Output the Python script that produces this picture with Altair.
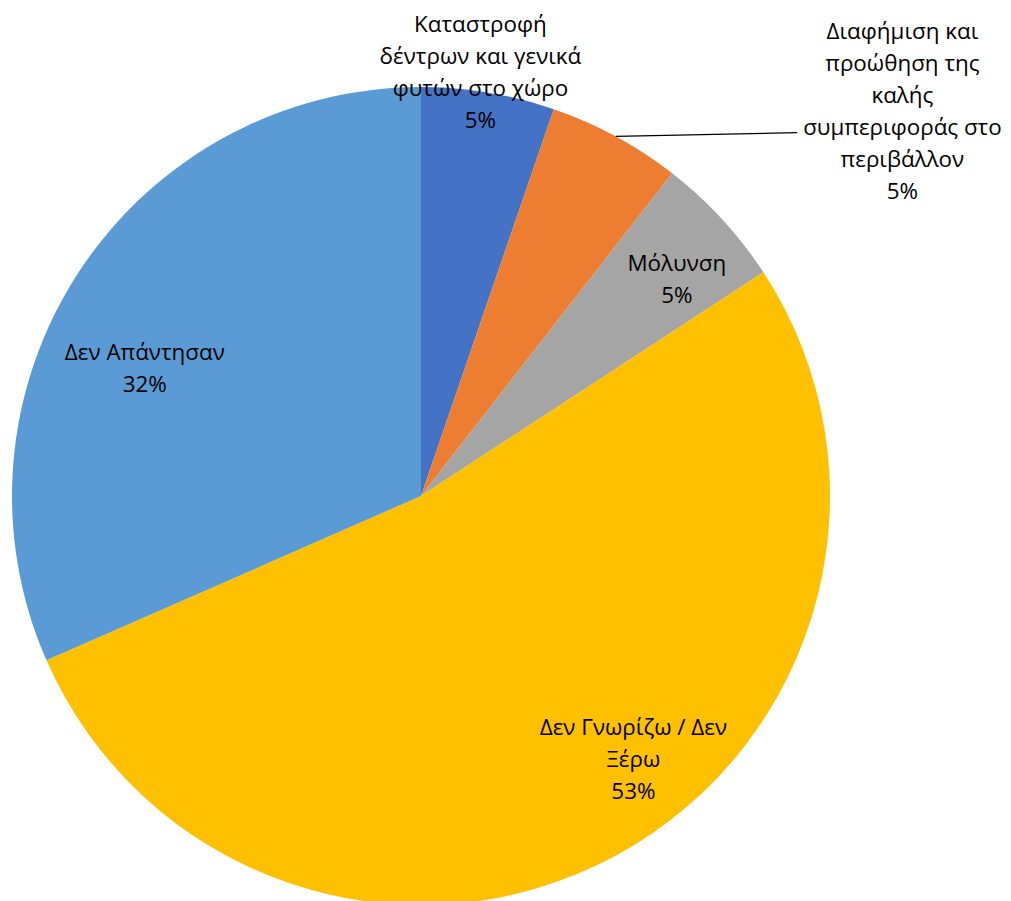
import altair as alt
import pandas as pd
import numpy as np

categories = [
    "Καταστροφή δέντρων και γενικά φυτών στο χώρο",
    "Διαφήμιση και προώθηση της καλής συμπεριφοράς στο περιβάλλον",
    "Μόλυνση",
    "Δεν Γνωρίζω / Δεν Ξέρω",
    "Δεν Απάντησαν",
]
counts = [1, 1, 1, 10, 6]
label_lines = [
    "Καταστροφή\nδέντρων και γενικά\nφυτών στο χώρο",
    "Διαφήμιση και\nπροώθηση της\nκαλής\nσυμπεριφοράς στο\nπεριβάλλον",
    "Μόλυνση",
    "Δεν Γνωρίζω / Δεν\nΞέρω",
    "Δεν Απάντησαν",
]
colors = ["#4472C4", "#ED7D31", "#A5A5A5", "#FFC000", "#5B9BD5"]

# layout (pixels in plot area)
CX, CY, R = 413, 488, 409
LINE_H = 32
label_angle_deg = [8.0, 51.4, 49.8, 141.2, 294.7]
label_radius = [427, 616, 335, 339, 304]

total = sum(counts)
pct = [f"{round(100 * c / total)}%" for c in counts]

df = pd.DataFrame({
    "category": categories,
    "count": counts,
    "order": list(range(len(categories))),
})

texts_full = [f"{t}\n{p}" for t, p in zip(label_lines, pct)]
n_lines = np.array([t.count("\n") + 1 for t in texts_full])
ang = np.radians(label_angle_deg)
lab = pd.DataFrame({
    "text": texts_full,
    "x": CX + np.array(label_radius) * np.sin(ang),
    # y of the first line so that the whole block is centred on the anchor
    "y": CY - np.array(label_radius) * np.cos(ang) - (n_lines - 1) * LINE_H / 2,
})

# leader line for the outside label (slice 2): from mid-angle of the slice at the rim
cum = np.cumsum([0] + counts) / total * 2 * np.pi
mid2 = (cum[1] + cum[2]) / 2
lead_end_ang = np.radians(46.0)
lead = pd.DataFrame({
    "x": [CX + R * np.sin(mid2)],
    "y": [CY - R * np.cos(mid2)],
    "x2": [CX + 523 * np.sin(lead_end_ang)],
    "y2": [CY - 523 * np.cos(lead_end_ang)],
})

pie = alt.Chart(df).mark_arc(radius=R).encode(
    theta=alt.Theta("count:Q", stack=True),
    order=alt.Order("order:Q"),
    color=alt.Color("category:N", scale=alt.Scale(domain=categories, range=colors), legend=None),
    x=alt.value(CX),
    y=alt.value(CY),
)

leader = alt.Chart(lead).mark_rule(color="#000000", strokeWidth=1.2).encode(
    x=alt.X("x:Q", scale=None),
    y=alt.Y("y:Q", scale=None),
    x2="x2:Q",
    y2="y2:Q",
)

texts = alt.Chart(lab).mark_text(
    font="Open Sans", fontSize=22.4, lineHeight=LINE_H, align="center", baseline="middle",
    lineBreak="\n", color="#000000",
).encode(
    x=alt.X("x:Q", scale=None),
    y=alt.Y("y:Q", scale=None),
    text="text:N",
)

chart = alt.layer(pie, leader, texts).properties(
    width=995, height=893, padding=0, autosize=alt.AutoSizeParams(type="none"),
).configure_view(stroke=None)

chart.save("out.html", embed_options={"renderer": "svg", "actions": False})
